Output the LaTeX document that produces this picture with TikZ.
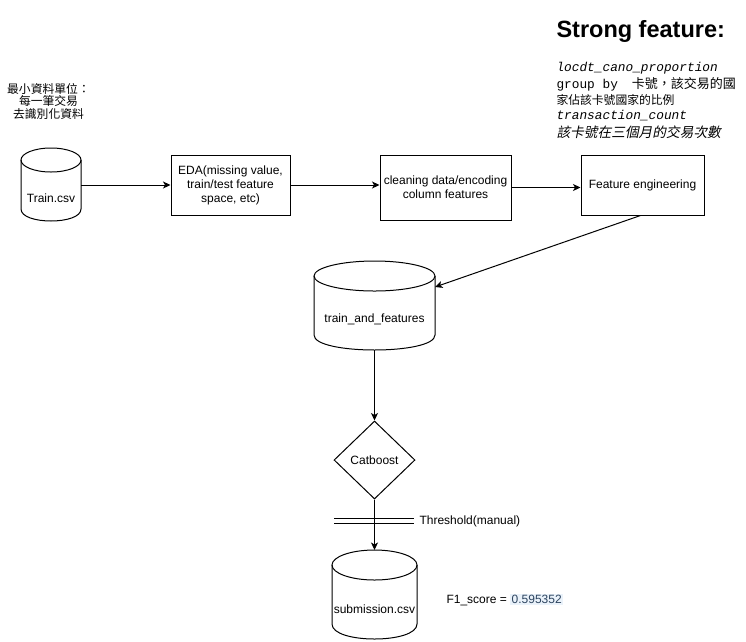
\documentclass[tikz,border=0pt]{standalone}
\usepackage{fontspec}
\setmainfont{Liberation Sans}
\newfontfamily\cjk{Noto Sans CJK TC}
\newfontfamily\cjkit[FakeSlant=0.2]{Noto Sans CJK TC}
\newfontfamily\monof{Liberation Mono}
\usetikzlibrary{shapes.geometric,arrows.meta}
\definecolor{valbg}{RGB}{234,242,250}
\definecolor{valfg}{RGB}{45,68,95}
\newcommand\mycyl[5]{%
  \draw ({(#1+#2)/2},{#3+#5}) ellipse [x radius={(#2-#1)/2}, y radius=#5];
  \draw (#1,{#3+#5}) -- (#1,{#4-#5}) .. controls (#1,{#4-#5+1.333*#5}) and (#2,{#4-#5+1.333*#5}) .. (#2,{#4-#5}) -- (#2,{#3+#5});
}
\begin{document}
\begin{tikzpicture}[x=1pt,y=-1pt,line width=1pt,
  box/.style={draw, rectangle, inner sep=0pt, align=center, font=\fontsize{12}{14}\selectfont},
  lbl/.style={inner sep=0pt, align=center, font=\fontsize{12}{14}\selectfont},
  arr/.style={-{Stealth[length=7.5pt,width=7pt,inset=2pt]}},
]
\useasboundingbox (0,0) rectangle (746,641);
\fill[white] (0,0) rectangle (746,641);

% top-left note
\node[inner sep=0pt, align=center, font=\cjk\fontsize{11.8}{12.5}\selectfont] (unit) at (48.5,101) {最小資料單位：\\每一筆交易\\去識別化資料};

% strong features
\node[inner sep=0pt, anchor=west, font=\bfseries\fontsize{23.5}{26}\selectfont] (strong) at (556,31) {Strong feature:};
\node[inner sep=0pt, anchor=west, font=\monof\itshape\fontsize{12.8}{15}\selectfont] (f1a) at (556,68) {locdt\_cano\_proportion};
\node[inner sep=0pt, anchor=west, font=\fontsize{12.8}{15}\selectfont] (f1b) at (556,84) {{\monof group by}\hspace{14pt}{\cjk\fontsize{13}{15}\selectfont 卡號，該交易的國}};
\node[inner sep=0pt, anchor=west, font=\cjk\fontsize{11.8}{15}\selectfont] (f1c) at (556,100) {家佔該卡號國家的比例};
\node[inner sep=0pt, anchor=west, font=\monof\itshape\fontsize{12.8}{15}\selectfont] (f2a) at (556,116) {transaction\_count};
\node[inner sep=0pt, anchor=west, font=\cjkit\fontsize{13.7}{15}\selectfont] (f2b) at (556,132) {該卡號在三個月的交易次數};

% Train.csv
\mycyl{21}{81}{148}{221}{12}
\node[lbl] (train) at (51,198) {Train.csv};
\coordinate (trainE) at (81,185);

% boxes
\node[box, minimum width=119pt, minimum height=60pt] (eda) at (230.5,185) {EDA(missing value,\\train/test feature\\space, etc)};
\node[box, minimum width=131pt, minimum height=65pt] (clean) at (445.5,187.5) {cleaning data/encoding\\column features};
\node[box, minimum width=123pt, minimum height=60pt] (feat) at (642.5,185) {Feature engineering};

\draw[arr] (trainE) -- (eda.west);
\draw[arr] (eda.east) -- (eda.east -| clean.west);
\draw[arr] (clean.east) -- (clean.east -| feat.west);

% train_and_features
\mycyl{314}{435}{261}{350}{15}
\node[lbl] (taf) at (374.5,319) {train\_and\_features};
\coordinate (tafE) at (435,287);
\coordinate (tafS) at (374.5,350);
\draw[arr] ([xshift=-2pt]feat.south) -- (tafE);

% Catboost
\node[draw, diamond, minimum width=81pt, minimum height=78pt, inner sep=0pt, font=\fontsize{12}{14}\selectfont] (cat) at (374.5,460) {Catboost};
\draw[arr] (tafS) -- (cat.north);

% submission
\mycyl{332}{417}{550}{639}{15}
\node[lbl] (sub) at (374.5,609) {submission.csv};
\coordinate (subT) at (374.5,550);
\draw[arr] (cat.south) -- (subT);

% threshold
\node[lbl, anchor=west] (thr) at (419,521) {Threshold(manual)};
\draw (334,518) -- (414,518);
\draw (334,523) -- (414,523);

% F1 score
\node[lbl, anchor=west] (f1) at (446,600) {F1\_score = {\setlength\fboxsep{1.5pt}\colorbox{valbg}{\textcolor{valfg}{0.595352}}}};
\end{tikzpicture}
\end{document}
